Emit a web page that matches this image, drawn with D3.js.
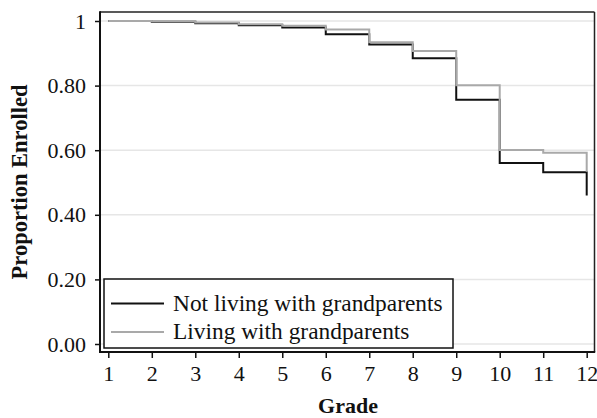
<!DOCTYPE html>
<html>
<head>
<meta charset="utf-8">
<script src="https://cdn.jsdelivr.net/npm/d3@7"></script>
<style>
  body { margin: 0; background: #fff; }
  text { font-family: "Liberation Serif", "DejaVu Serif", serif; fill: #111; }
</style>
</head>
<body>
<script>
// grades on the x axis
const grades = [1, 2, 3, 4, 5, 6, 7, 8, 9, 10, 11, 12];
// proportion still enrolled after each grade
const notLiving = [1.0, 0.998, 0.993, 0.987, 0.980, 0.959, 0.927, 0.885, 0.756, 0.560, 0.532, 0.460];
const living    = [1.0, 0.999, 0.995, 0.990, 0.985, 0.974, 0.934, 0.907, 0.801, 0.601, 0.592, 0.533];
const yTicks = [0, 0.2, 0.4, 0.6, 0.8, 1];
const yTickLabels = ["0.00", "0.20", "0.40", "0.60", "0.80", "1"];
const seriesNames = ["Not living with grandparents", "Living with grandparents"];

function main(){
    const width = 597;
    const height = 418;

    const svg = d3.select("body").append("svg")
        .attr("width", width)
        .attr("height", height);

    const left = 100, right = 594.5, top = 12, bottom = 352;

    const xScale = d3.scaleLinear().domain([1, 12]).range([108.3, 586.7]);
    const yScale = d3.scaleLinear().domain([0, 1]).range([344, 21]);

    //gridlines
    svg.append("g").selectAll("line")
        .data(yTicks)
        .enter().append("line")
        .attr("x1", left).attr("x2", right)
        .attr("y1", d => yScale(d)).attr("y2", d => yScale(d))
        .attr("stroke", "#e6e6e6")
        .attr("stroke-width", 1.5);

    //step lines, black first so grey sits on top
    const line = d3.line()
        .x(d => xScale(d[0]))
        .y(d => yScale(d[1]))
        .curve(d3.curveStepAfter);

    const series = [
        {name: seriesNames[0], values: notLiving, color: "#111"},
        {name: seriesNames[1], values: living, color: "#a9a9a9"}
    ];

    svg.append("g").selectAll("path")
        .data(series)
        .enter().append("path")
        .attr("d", s => line(grades.map((g, i) => [g, s.values[i]])))
        .attr("fill", "none")
        .attr("stroke", s => s.color)
        .attr("stroke-width", 2);

    //frame: top and right thin, axes thicker
    svg.append("line").attr("x1", left).attr("x2", right).attr("y1", top).attr("y2", top)
        .attr("stroke", "#222").attr("stroke-width", 1.5);
    svg.append("line").attr("x1", right).attr("x2", right).attr("y1", top).attr("y2", bottom)
        .attr("stroke", "#222").attr("stroke-width", 1.5);

    //y axis
    const yAxis = svg.append("g")
        .attr("transform", "translate(" + left + ",0)")
        .call(d3.axisLeft(yScale).tickValues(yTicks)
            .tickFormat((d, i) => yTickLabels[i]).tickSize(5).tickPadding(9));
    yAxis.select(".domain").remove();
    yAxis.selectAll("line").attr("stroke", "#111").attr("stroke-width", 1.5);
    yAxis.selectAll("text").attr("font-size", "22px").attr("font-family", "Liberation Serif").attr("fill", "#111");

    //x axis
    const xAxis = svg.append("g")
        .attr("transform", "translate(0," + bottom + ")")
        .call(d3.axisBottom(xScale).tickValues(grades).tickFormat(d => d).tickSize(6).tickPadding(7));
    xAxis.select(".domain").remove();
    xAxis.selectAll("line").attr("stroke", "#111").attr("stroke-width", 1.5);
    xAxis.selectAll("text").attr("font-size", "22px").attr("font-family", "Liberation Serif").attr("fill", "#111");

    svg.append("line").attr("x1", left).attr("x2", left).attr("y1", top - 0.7).attr("y2", bottom + 1)
        .attr("stroke", "#111").attr("stroke-width", 2);
    svg.append("line").attr("x1", left - 1).attr("x2", right + 0.7).attr("y1", bottom).attr("y2", bottom)
        .attr("stroke", "#111").attr("stroke-width", 2);

    //axis titles
    svg.append("text")
        .attr("transform", "translate(27,182) rotate(-90)")
        .attr("text-anchor", "middle")
        .attr("font-size", "22.5px")
        .attr("font-weight", "bold")
        .text("Proportion Enrolled");

    svg.append("text")
        .attr("x", 348).attr("y", 413)
        .attr("text-anchor", "middle")
        .attr("font-size", "22px")
        .attr("font-weight", "bold")
        .text("Grade");

    //legend
    const legend = svg.append("g").attr("transform", "translate(104,279)");
    legend.append("rect")
        .attr("width", 349).attr("height", 69)
        .attr("fill", "#fff").attr("stroke", "#111").attr("stroke-width", 1.5);
    const items = legend.selectAll(".item")
        .data(series)
        .enter().append("g")
        .attr("class", "item")
        .attr("transform", (d, i) => "translate(0," + (24.5 + i * 28.5) + ")");
    items.append("line")
        .attr("x1", 7).attr("x2", 60)
        .attr("stroke", d => d.color).attr("stroke-width", 2);
    items.append("text")
        .attr("x", 69).attr("y", 7)
        .attr("font-size", "23.4px")
        .text(d => d.name);
}
main();
</script>
</body>
</html>
